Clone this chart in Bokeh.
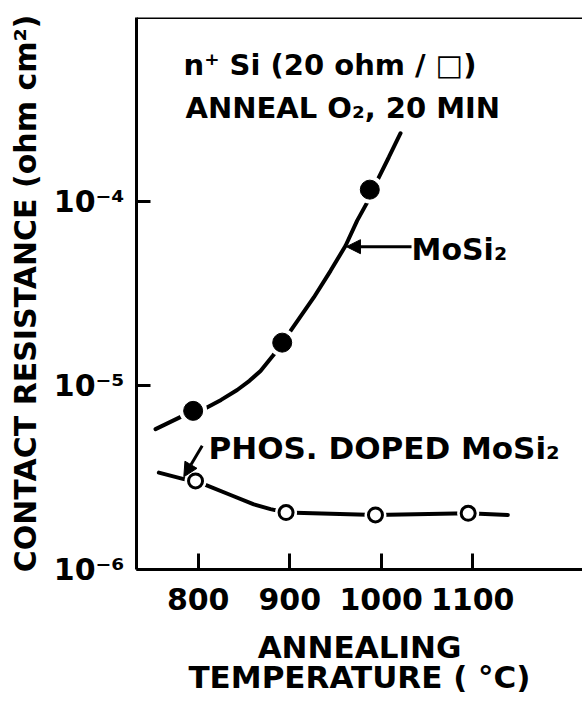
from bokeh.plotting import figure
from bokeh.models import (FixedTicker, CustomJSTickFormatter, Span, Label,
                          Arrow, NormalHead)
from bokeh.embed import file_html
from bokeh.resources import INLINE

# ---------------- data ----------------
# MoSi2 (undoped): drawn curve and measured points
mosi2_curve_temp = [753.4, 794.5, 808.0, 825.0, 842.6, 856.0, 868.1, 882.0, 891.8, 900.9,
                    926.3, 944.6, 961.0, 973.7, 984.7, 987.5, 995.6, 1008.3, 1021.1]
mosi2_curve_res = [5.79e-6, 7.28e-6, 7.53e-6, 8.35e-6, 9.45e-6, 1.06e-5, 1.20e-5, 1.46e-5,
                   1.71e-5, 1.98e-5, 3.01e-5, 4.20e-5, 5.75e-5, 7.87e-5, 9.89e-5, 1.16e-4,
                   1.30e-4, 1.74e-4, 2.35e-4]
mosi2_pts_temp = [794.5, 891.8, 987.5]
mosi2_pts_res = [7.28e-6, 1.71e-5, 1.16e-4]

# Phosphorus-doped MoSi2: drawn curve and measured points
phos_curve_temp = [757.0, 784.3, 797.1, 808.0, 835.4, 860.8, 879.0, 896.0,
                   993.7, 1095.0, 1138.3]
phos_curve_res = [3.36e-6, 3.10e-6, 3.03e-6, 2.88e-6, 2.54e-6, 2.26e-6, 2.13e-6, 2.04e-6,
                  1.98e-6, 2.02e-6, 1.98e-6]
phos_pts_temp = [797.1, 896.0, 993.7, 1095.0]
phos_pts_res = [3.03e-6, 2.04e-6, 1.98e-6, 2.02e-6]

# axes
x_tick_values = [800, 900, 1000, 1100]
y_tick_values = [1e-6, 1e-5, 1e-4]
y_tick_labels = ["10\u207b\u2076", "10\u207b\u2075", "10\u207b\u2074"]

x_label = "ANNEALING\nTEMPERATURE ( \u00b0C)"
y_label = "CONTACT RESISTANCE (ohm cm\u00b2)"
cond_line1 = "n\u207a Si (20 ohm / \u25a1)"
cond_line2 = "ANNEAL O\u2082, 20 MIN"
mosi2_label = "MoSi\u2082"
phos_label = "PHOS. DOPED MoSi\u2082"

FONT = "DejaVu Sans"

# ---------------- figure ----------------
p = figure(width=582, height=705, y_axis_type="log",
           x_range=(732.6, 1219.9), y_range=(1e-6, 1e-3),
           output_backend="svg", toolbar_location=None,
           min_border_left=136, min_border_right=0,
           min_border_top=17, min_border_bottom=136)
p.outline_line_color = None
p.grid.visible = False
p.background_fill_color = "white"
p.border_fill_color = "white"

# x axis
xa = p.xaxis[0]
xa.ticker = FixedTicker(ticks=x_tick_values)
xa.major_tick_in = 16
xa.major_tick_out = 0
xa.major_tick_line_width = 3
xa.minor_tick_line_color = None
xa.axis_line_width = 3
xa.major_label_text_font = FONT
xa.major_label_text_font_style = "bold"
xa.major_label_text_font_size = "30px"
xa.major_label_text_color = "black"
xa.major_label_standoff = 18
xa.axis_label = x_label
xa.axis_label_text_font = FONT
xa.axis_label_text_font_style = "bold"
xa.axis_label_text_font_size = "31px"
xa.axis_label_text_color = "black"
xa.axis_label_text_line_height = 0.85
xa.axis_label_standoff = 16

# y axis
ya = p.yaxis[0]
ya.ticker = FixedTicker(ticks=y_tick_values, minor_ticks=[])
ya.formatter = CustomJSTickFormatter(
    args=dict(vals=y_tick_values, labs=y_tick_labels),
    code="""
    let best = 0, bd = 1e9;
    for (let i = 0; i < vals.length; i++) {
        const d = Math.abs(Math.log10(tick) - Math.log10(vals[i]));
        if (d < bd) { bd = d; best = i; }
    }
    return labs[best];
    """)
ya.major_tick_in = 14
ya.major_tick_out = 0
ya.major_tick_line_width = 3
ya.minor_tick_line_color = None
ya.axis_line_width = 3
ya.major_label_text_font = FONT
ya.major_label_text_font_style = "bold"
ya.major_label_text_font_size = "30px"
ya.major_label_text_color = "black"
ya.major_label_standoff = 12
ya.axis_label = y_label
ya.axis_label_text_font = FONT
ya.axis_label_text_font_style = "bold"
ya.axis_label_text_font_size = "30px"
ya.axis_label_text_color = "black"
ya.axis_label_standoff = 8

# top frame line
p.add_layout(Span(location=1e-3, dimension="width", line_color="black", line_width=3))

# ---------------- curves and points ----------------
p.line(mosi2_curve_temp, mosi2_curve_res, line_color="black", line_width=4, line_cap="round")
p.line(phos_curve_temp, phos_curve_res, line_color="black", line_width=4, line_cap="round")

# white gaps around the markers
p.scatter(mosi2_pts_temp, mosi2_pts_res, size=28, fill_color="white", line_color=None)
p.scatter(phos_pts_temp, phos_pts_res, size=22, fill_color="white", line_color=None)

p.scatter(mosi2_pts_temp, mosi2_pts_res, size=19, fill_color="black", line_color="black")
p.scatter(phos_pts_temp, phos_pts_res, size=14, fill_color="white", line_color="black",
          line_width=3)

# ---------------- annotations ----------------
def add_label(x, y, text, size):
    p.add_layout(Label(x=x, y=y, text=text, text_font=FONT, text_font_style="bold",
                       text_font_size=size, text_color="black",
                       text_align="left", text_baseline="alphabetic"))

add_label(784.0, 5.55e-4, cond_line1, "29px")
add_label(786.1, 3.24e-4, cond_line2, "29px")
add_label(1033.1, 5.47e-5, mosi2_label, "30px")
add_label(811.3, 4.58e-6, phos_label, "31px")

p.add_layout(Arrow(x_start=1033.1, y_start=5.68e-5, x_end=962.0, y_end=5.68e-5,
                   line_color="black", line_width=3,
                   end=NormalHead(size=14, fill_color="black", line_color="black")))
p.add_layout(Arrow(x_start=804.4, y_start=4.70e-6, x_end=784.3, y_end=3.19e-6,
                   line_color="black", line_width=3,
                   end=NormalHead(size=14, fill_color="black", line_color="black")))

open("out.html", "w").write(file_html(p, INLINE))
